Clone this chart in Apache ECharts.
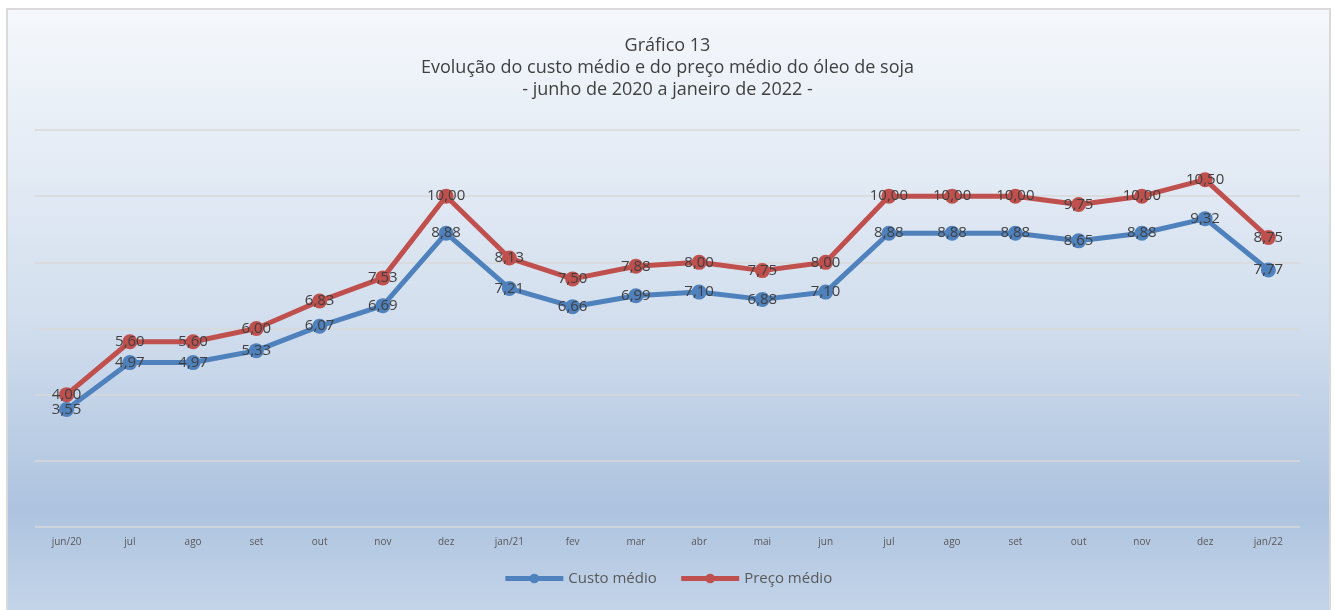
<!DOCTYPE html>
<head>
    <meta charset="utf-8">
    <title>ECharts</title>
    <script type="text/javascript" src="https://cdn.jsdelivr.net/npm/echarts@6/dist/echarts.min.js"></script>
    <style>
        body { margin: 0; background: #fff; }
    </style>
</head>
<body>
    <div id="main" style="width:1335px;height:610px"></div>

    <script type="text/javascript">
     var meses = ['jun/20', 'jul', 'ago', 'set', 'out', 'nov', 'dez', 'jan/21', 'fev', 'mar', 'abr', 'mai', 'jun', 'jul', 'ago', 'set', 'out', 'nov', 'dez', 'jan/22'];
     var custoMedio = [3.55, 4.97, 4.97, 5.33, 6.07, 6.69, 8.88, 7.21, 6.66, 6.99, 7.10, 6.88, 7.10, 8.88, 8.88, 8.88, 8.65, 8.88, 9.32, 7.77];
     var precoMedio = [4.00, 5.60, 5.60, 6.00, 6.83, 7.53, 10.00, 8.13, 7.50, 7.88, 8.00, 7.75, 8.00, 10.00, 10.00, 10.00, 9.75, 10.00, 10.50, 8.75];

     var fonte = '"Open Sans", "Noto Sans", sans-serif';
     function rotulo(p) {
         return p.value.toFixed(2).replace('.', ',');
     }

     var myChart = echarts.init(document.getElementById('main'));
     myChart.setOption({
         backgroundColor: '#ffffff',
         textStyle: { fontFamily: fonte },
         graphic: [{
             type: 'rect',
             z: -100,
             silent: true,
             shape: { x: 7, y: 9, width: 1323, height: 610 },
             style: {
                 fill: new echarts.graphic.LinearGradient(0, 0, 0, 1, [
                     { offset: 0, color: '#f5f8fc' },
                     { offset: 0.5, color: '#d3dfee' },
                     { offset: 0.82, color: '#adc3df' },
                     { offset: 1, color: '#c6d6ea' }
                 ]),
                 stroke: '#d9d9d9',
                 lineWidth: 2
             }
         }],
         title: {
             text: 'Gráfico 13\nEvolução do custo médio e do preço médio do óleo de soja\n- junho de 2020 a janeiro de 2022 -',
             left: 'center',
             top: 30,
             textStyle: {
                 fontFamily: fonte,
                 fontSize: 18,
                 fontWeight: 'normal',
                 color: '#404040',
                 lineHeight: 22
             }
         },
         legend: {
             bottom: 19,
             left: 'center',
             itemWidth: 58,
             itemHeight: 12,
             itemGap: 22,
             lineStyle: { width: 5 },
             textStyle: { fontSize: 15, color: '#595959', fontFamily: fonte },
             data: ['Custo médio', 'Preço médio']
         },
         grid: {
             left: 35,
             right: 35,
             top: 130,
             bottom: 83
         },
         xAxis: {
             type: 'category',
             data: meses,
             boundaryGap: true,
             axisLine: { show: false },
             axisTick: { show: false },
             axisLabel: { fontSize: 10, color: '#595959', margin: 10, fontFamily: fonte }
         },
         yAxis: {
             type: 'value',
             min: 0,
             max: 12,
             interval: 2,
             axisLabel: { show: false },
             axisLine: { show: false },
             axisTick: { show: false },
             splitLine: { lineStyle: { color: '#d9d9d9', width: 1.5 } }
         },
         series: [
             {
                 name: 'Custo médio',
                 type: 'line',
                 data: custoMedio,
                 symbol: 'circle',
                 symbolSize: 15,
                 color: '#4f81bd',
                 lineStyle: { width: 5, color: '#4f81bd' },
                 itemStyle: { color: '#4f81bd' },
                 label: {
                     show: true,
                     position: 'inside',
                     formatter: rotulo,
                     fontSize: 15,
                     color: '#404040',
                     fontFamily: fonte
                 }
             },
             {
                 name: 'Preço médio',
                 type: 'line',
                 data: precoMedio,
                 symbol: 'circle',
                 symbolSize: 15,
                 color: '#c0504d',
                 lineStyle: { width: 5, color: '#c0504d' },
                 itemStyle: { color: '#c0504d' },
                 label: {
                     show: true,
                     position: 'inside',
                     formatter: rotulo,
                     fontSize: 15,
                     color: '#404040',
                     fontFamily: fonte
                 }
             }
         ]
     });
    </script>
</body>
